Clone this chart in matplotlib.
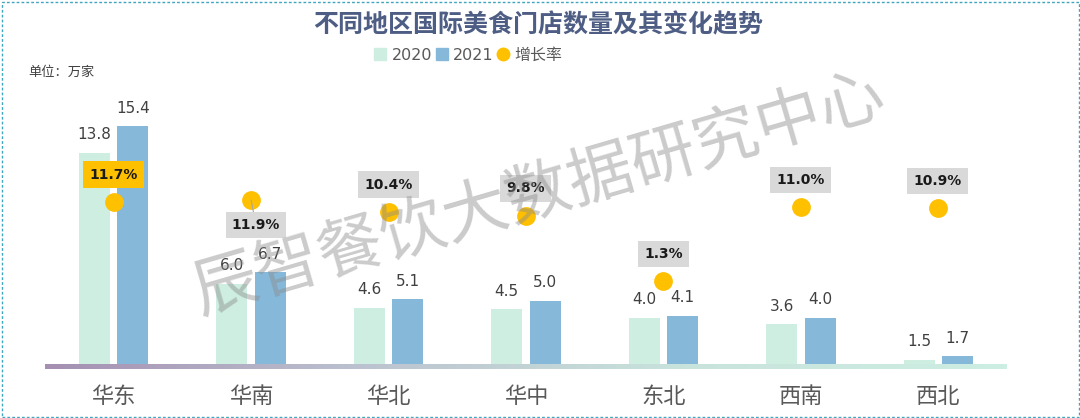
import matplotlib
matplotlib.use("Agg")
import matplotlib.pyplot as plt
import numpy as np
from matplotlib.lines import Line2D
from matplotlib.patches import Rectangle
from matplotlib.colors import LinearSegmentedColormap

plt.rcParams['font.family'] = ['Noto Sans CJK SC', 'DejaVu Sans']

# ---------------- data ----------------
regions = ['华东', '华南', '华北', '华中', '东北', '西南', '西北']
stores_2020 = [13.8, 6.0, 4.6, 4.5, 4.0, 3.6, 1.5]
stores_2021 = [15.4, 6.7, 5.1, 5.0, 4.1, 4.0, 1.7]
growth_pct = [11.7, 11.9, 10.4, 9.8, 1.3, 11.0, 10.9]
growth_labels = ['11.7%', '11.9%', '10.4%', '9.8%', '1.3%', '11.0%', '10.9%']
series_names = ['2020', '2021', '增长率']

# ---------------- style ----------------
C2020 = '#cdeee0'
C2021 = '#85b8d9'
CDOT = '#ffc000'
W, H = 1080, 418

fig = plt.figure(figsize=(W / 100, H / 100), dpi=100)

ax = fig.add_axes([45 / W, 54 / H, 962 / W, 304 / H])
x = np.arange(len(regions))
bw = 0.225
off = 0.14
b1 = ax.bar(x - off, stores_2020, bw, color=C2020, zorder=2)
b2 = ax.bar(x + off, stores_2021, bw, color=C2021, zorder=2)
ax.set_xlim(-0.5, 6.5)
ax.set_ylim(1.24, 1.24 + 304 / 16.8)

for bars, vals in ((b1, stores_2020), (b2, stores_2021)):
    for r, v in zip(bars, vals):
        ax.annotate(f'{v:.1f}', (r.get_x() + r.get_width() / 2, v),
                    xytext=(0, 13), textcoords='offset points',
                    ha='center', va='center', fontsize=11, color='#404040',
                    family=['DejaVu Sans'])

for s in ax.spines.values():
    s.set_visible(False)
ax.set_yticks([])
ax.set_xticks(x)
ax.set_xticklabels(regions, fontsize=16, color='#595959')
ax.tick_params(axis='x', length=0, pad=15)

# growth rate on secondary axis
ax2 = ax.twinx()
ax2.set_ylim(-9.57, 30.28)
ax2.plot(x, growth_pct, linestyle='none', marker='o', markersize=12.5,
         color=CDOT, zorder=3)
for s in ax2.spines.values():
    s.set_visible(False)
ax2.set_yticks([])

offsets = [(0, 19.5), (3.5, -18), (0, 19.5), (-0.5, 20), (0, 19.5), (0, 19.5), (-0.5, 19.5)]
for i, (g, lab) in enumerate(zip(growth_pct, growth_labels)):
    fc = CDOT if i == 0 else '#d9d9d9'
    arrow = dict(arrowstyle='-', color='#a6a6a6', lw=0.8, shrinkA=0, shrinkB=0) if i == 1 else None
    ax2.annotate(lab, (x[i], g), xytext=offsets[i], textcoords='offset points',
                 ha='center', va='center', fontsize=10, fontweight='bold',
                 color='#1a1a1a', family=['DejaVu Sans'],
                 bbox=dict(boxstyle='square,pad=0.45', fc=fc, ec='none'),
                 arrowprops=arrow, zorder=4)

# gradient baseline
gax = fig.add_axes([45 / W, (H - 369) / H, 962 / W, 5 / H])
cmap = LinearSegmentedColormap.from_list('g', ['#a58fb2', '#bcc3d0', '#c8e3dc', '#cdeee2'])
gax.imshow(np.linspace(0, 1, 256)[None, :], aspect='auto', cmap=cmap,
           extent=(0, 1, 0, 1))
gax.axis('off')

# title, unit, legend
fig.text(538 / W, 1 - 25 / H, '不同地区国际美食门店数量及其变化趋势', ha='center',
         va='center', fontsize=18, fontweight='bold', color='#4e5d84')
fig.text(28 / W, 1 - 72 / H, '单位：万家', ha='left', va='center',
         fontsize=9.5, color='#404040')

handles = [Line2D([], [], marker='s', linestyle='none', color=C2020, markersize=8),
           Line2D([], [], marker='s', linestyle='none', color=C2021, markersize=8),
           Line2D([], [], marker='o', linestyle='none', color=CDOT, markersize=9)]
leg = fig.legend(handles, series_names, loc='center', bbox_to_anchor=(468 / W, 1 - 55 / H),
                 ncol=3, frameon=False, prop={'family': ['DejaVu Sans', 'Noto Sans CJK SC'], 'size': 11.5},
                 handlelength=0.8, handletextpad=0.3, columnspacing=0.2, labelcolor='#595959')

# watermark
fig.text(539 / W, 1 - 195 / H, '辰智餐饮大数据研究中心', ha='center', va='center',
         rotation=16.3, fontsize=47, color='#8c8c8c', alpha=0.45, zorder=10)

# dashed border
fig.patches.append(Rectangle((1.5 / W, 1.5 / H), (W - 3) / W, (H - 3) / H,
                             transform=fig.transFigure, fill=False,
                             ec='#3fa6bf', lw=1.0, ls=(0, (2, 1.5))))

fig.savefig('out.png', dpi=100)
